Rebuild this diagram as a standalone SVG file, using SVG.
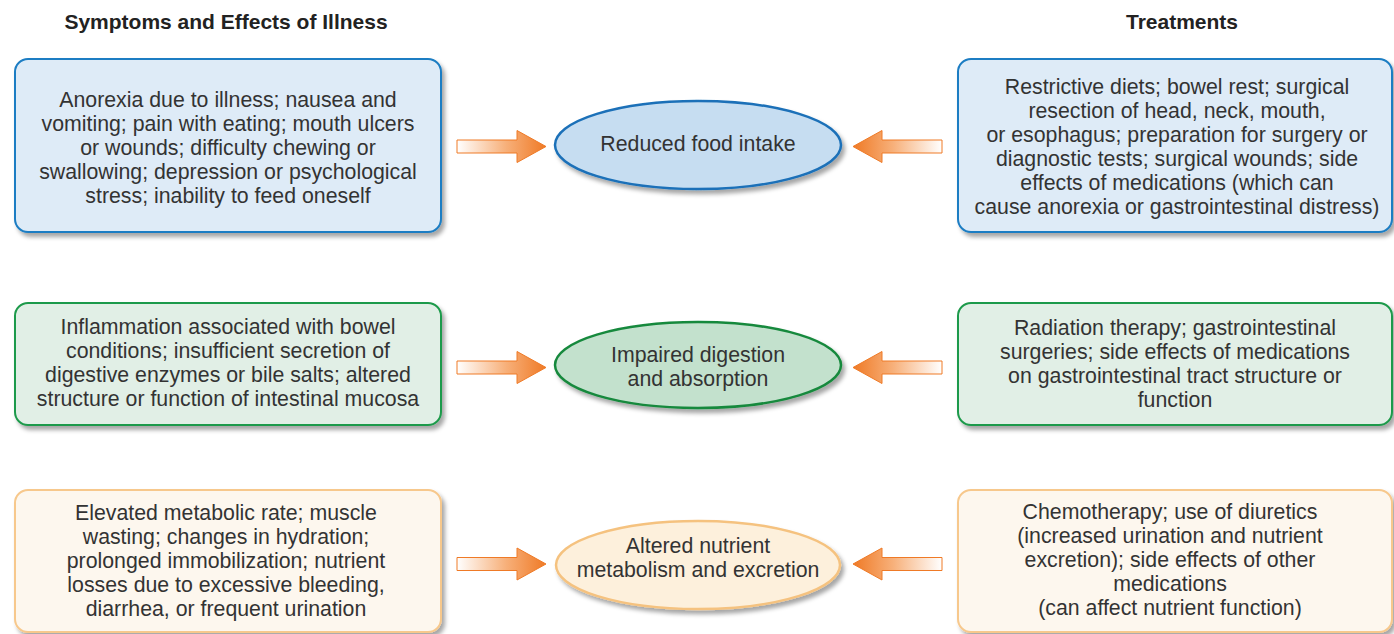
<svg xmlns="http://www.w3.org/2000/svg" width="1394" height="634" viewBox="0 0 1394 634">
  <defs>
    <filter id="shadow" x="-10%" y="-10%" width="125%" height="130%">
      <feDropShadow dx="3" dy="4" stdDeviation="2" flood-color="#000" flood-opacity="0.35"/>
    </filter>
    <linearGradient id="arrowR" x1="0" y1="0" x2="1" y2="0">
      <stop offset="0" stop-color="#ffffff"/>
      <stop offset="0.55" stop-color="#f7b07a"/>
      <stop offset="1" stop-color="#ef7a26"/>
    </linearGradient>
    <linearGradient id="arrowL" x1="1" y1="0" x2="0" y2="0">
      <stop offset="0" stop-color="#ffffff"/>
      <stop offset="0.55" stop-color="#f7b07a"/>
      <stop offset="1" stop-color="#ef7a26"/>
    </linearGradient>
    <path id="arrowRight" d="M0,-6.5 H60 V-16 L89,0 L60,16 V6.5 H0 Z"/>
    <path id="arrowLeft" d="M0,-6.5 H-60 V-16 L-89,0 L-60,16 V6.5 H0 Z"/>
  </defs>
  <style>
    text { font-family: "Liberation Sans", Arial, sans-serif; fill: #333333; }
    .head { font-size: 21px; font-weight: bold; fill: #222222; text-anchor: middle; }
    .body { font-size: 21.3px; text-anchor: middle; }
    .box { stroke-width: 2; filter: url(#shadow); }
    .oval { stroke-width: 2.5; filter: url(#shadow); }
    .blue .box { fill: #deebf7; stroke: #1b7dc3; }
    .blue .oval { fill: #c6ddf1; stroke: #1a70b8; }
    .green .box { fill: #e1efe6; stroke: #1f9a4b; }
    .green .oval { fill: #c3e1cd; stroke: #17893d; }
    .peach .box { fill: #fdf7ee; stroke: #f7c88c; }
    .peach .oval { fill: #fdf0dc; stroke: #f5c27f; }
    .arr-r { fill: url(#arrowR); stroke: #ef7a26; stroke-width: 1; }
    .arr-l { fill: url(#arrowL); stroke: #ef7a26; stroke-width: 1; }
  </style>

  <!-- column headings -->
  <text class="head" x="226" y="29">Symptoms and Effects of Illness</text>
  <text class="head" x="1182" y="29">Treatments</text>

  <!-- row 1: reduced food intake -->
  <g id="symptoms-intake" class="blue">
    <rect class="box" x="15" y="59" width="426" height="173" rx="13"/>
    <text class="body" x="228" y="107">Anorexia due to illness; nausea and</text>
    <text class="body" x="228" y="131">vomiting; pain with eating; mouth ulcers</text>
    <text class="body" x="228" y="155">or wounds; difficulty chewing or</text>
    <text class="body" x="228" y="179">swallowing; depression or psychological</text>
    <text class="body" x="228" y="203">stress; inability to feed oneself</text>
  </g>
  <g id="reduced-intake" class="blue">
    <ellipse class="oval" cx="698" cy="145" rx="143" ry="44"/>
    <text class="body" x="698" y="151">Reduced food intake</text>
  </g>
  <g id="treatments-intake" class="blue">
    <rect class="box" x="958" y="59" width="434" height="173" rx="13"/>
    <text class="body" x="1177" y="94">Restrictive diets; bowel rest; surgical</text>
    <text class="body" x="1177" y="118">resection of head, neck, mouth,</text>
    <text class="body" x="1177" y="142">or esophagus; preparation for surgery or</text>
    <text class="body" x="1177" y="166">diagnostic tests; surgical wounds; side</text>
    <text class="body" x="1177" y="190">effects of medications (which can</text>
    <text class="body" x="1177" y="214">cause anorexia or gastrointestinal distress)</text>
  </g>

  <!-- row 2: impaired digestion -->
  <g id="symptoms-digestion" class="green">
    <rect class="box" x="15" y="303" width="426" height="122" rx="13"/>
    <text class="body" x="228" y="334">Inflammation associated with bowel</text>
    <text class="body" x="228" y="358">conditions; insufficient secretion of</text>
    <text class="body" x="228" y="382">digestive enzymes or bile salts; altered</text>
    <text class="body" x="228" y="406">structure or function of intestinal mucosa</text>
  </g>
  <g id="impaired-digestion" class="green">
    <ellipse class="oval" cx="698" cy="365" rx="143" ry="43"/>
    <text class="body" x="698" y="362">Impaired digestion</text>
    <text class="body" x="698" y="386">and absorption</text>
  </g>
  <g id="treatments-digestion" class="green">
    <rect class="box" x="958" y="303" width="434" height="122" rx="13"/>
    <text class="body" x="1175" y="335">Radiation therapy; gastrointestinal</text>
    <text class="body" x="1175" y="359">surgeries; side effects of medications</text>
    <text class="body" x="1175" y="383">on gastrointestinal tract structure or</text>
    <text class="body" x="1175" y="407">function</text>
  </g>

  <!-- row 3: altered metabolism -->
  <g id="symptoms-metabolism" class="peach">
    <rect class="box" x="15" y="490" width="426" height="142" rx="13"/>
    <text class="body" x="226" y="520">Elevated metabolic rate; muscle</text>
    <text class="body" x="226" y="544">wasting; changes in hydration;</text>
    <text class="body" x="226" y="568">prolonged immobilization; nutrient</text>
    <text class="body" x="226" y="592">losses due to excessive bleeding,</text>
    <text class="body" x="226" y="616">diarrhea, or frequent urination</text>
  </g>
  <g id="altered-metabolism" class="peach">
    <ellipse class="oval" cx="698" cy="565" rx="142" ry="44"/>
    <text class="body" x="698" y="553">Altered nutrient</text>
    <text class="body" x="698" y="577">metabolism and excretion</text>
  </g>
  <g id="treatments-metabolism" class="peach">
    <rect class="box" x="958" y="490" width="434" height="142" rx="13"/>
    <text class="body" x="1170" y="519">Chemotherapy; use of diuretics</text>
    <text class="body" x="1170" y="543">(increased urination and nutrient</text>
    <text class="body" x="1170" y="567">excretion); side effects of other</text>
    <text class="body" x="1170" y="591">medications</text>
    <text class="body" x="1170" y="615">(can affect nutrient function)</text>
  </g>

  <!-- connectors: block arrows pointing into each central effect -->
  <g id="connectors">
    <use href="#arrowRight" class="arr-r" x="457" y="146.5"/>
    <use href="#arrowLeft" class="arr-l" x="942" y="146.5"/>
    <use href="#arrowRight" class="arr-r" x="457" y="367.5"/>
    <use href="#arrowLeft" class="arr-l" x="942" y="367.5"/>
    <use href="#arrowRight" class="arr-r" x="457" y="564"/>
    <use href="#arrowLeft" class="arr-l" x="942" y="564"/>
  </g>
</svg>
